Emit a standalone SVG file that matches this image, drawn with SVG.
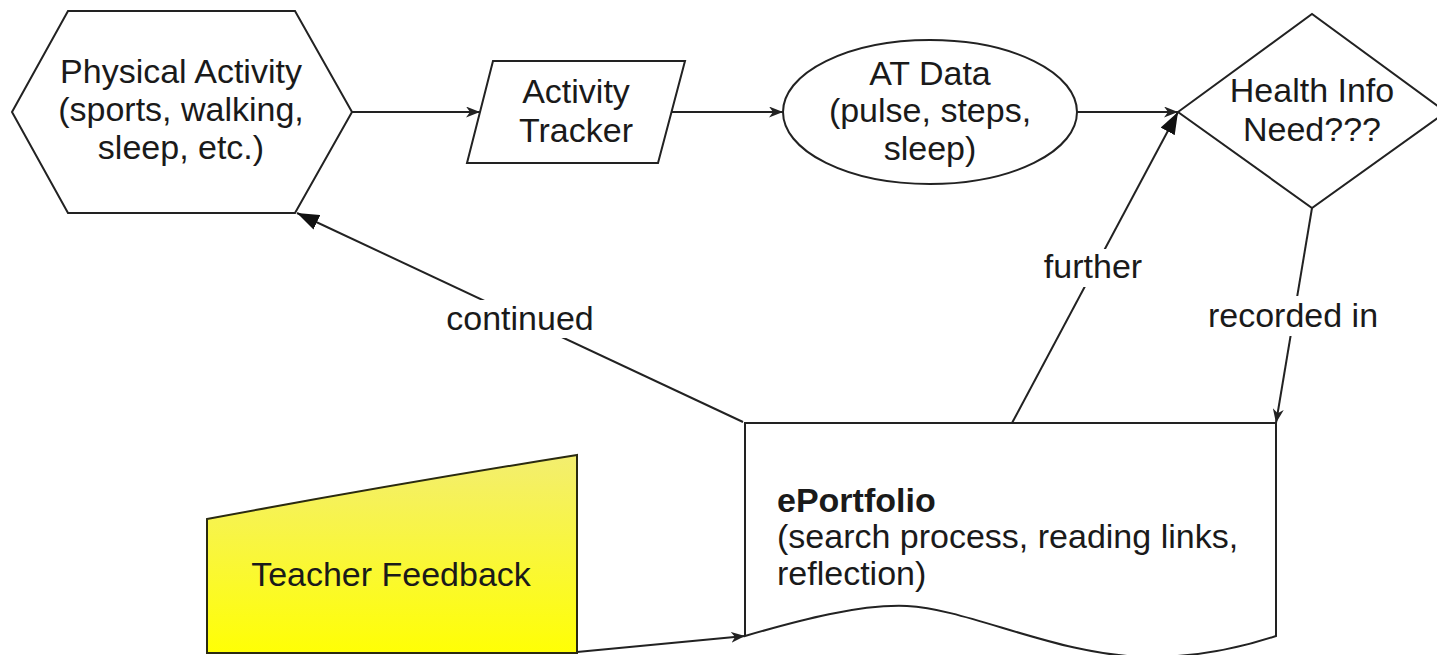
<svg xmlns="http://www.w3.org/2000/svg" width="1437" height="655" viewBox="0 0 1437 655">
<defs>
<style>
.shape{fill:#fff;stroke:#222;stroke-width:2}
.t{font-family:"Liberation Sans",Arial,sans-serif;font-size:34px;fill:#1a1a1a;text-anchor:middle}
.tl{font-family:"Liberation Sans",Arial,sans-serif;font-size:34px;fill:#1a1a1a;text-anchor:start}
.b{font-weight:bold}
.c{fill:none;stroke:#222;stroke-width:2}
.lbl{fill:#fff;stroke:none}
</style>
<linearGradient id="yel" x1="0" y1="0" x2="0" y2="1">
<stop offset="0" stop-color="#f3ee70"/>
<stop offset="1" stop-color="#ffff05"/>
</linearGradient>
<marker id="arrS" viewBox="0 0 14 11" refX="14" refY="5.5" markerWidth="14" markerHeight="11" markerUnits="userSpaceOnUse" orient="auto">
<path d="M0,0 L14,5.5 L0,11 L4,5.5 z" fill="#222"/>
</marker>
<marker id="arrB" viewBox="0 0 22 16" refX="22" refY="8" markerWidth="22" markerHeight="16" markerUnits="userSpaceOnUse" orient="auto">
<path d="M0,0 L22,8 L0,16 z" fill="#111"/>
</marker>
</defs>
<rect width="1437" height="655" fill="#fff"/>

<g id="connectors">
<path class="c" d="M352,112 L480,112" marker-end="url(#arrS)"/>
<path class="c" d="M672,112 L783,112" marker-end="url(#arrS)"/>
<path class="c" d="M1077,112 L1178,112" marker-end="url(#arrS)"/>
<path class="c" d="M743,422 L297,213" marker-end="url(#arrB)"/>
<path class="c" d="M1012,423 L1178,112" marker-end="url(#arrB)"/>
<path class="c" d="M1312,208 L1276,423" marker-end="url(#arrS)"/>
<path class="c" d="M577,652 L745,636" marker-end="url(#arrS)"/>
<rect class="lbl" x="445" y="300" width="150" height="38"/>
<text class="t" x="520" y="330">continued</text>
<rect class="lbl" x="1043" y="249" width="102" height="38"/>
<text class="t" x="1093" y="278">further</text>
<rect class="lbl" x="1206" y="296" width="174" height="40"/>
<text class="t" x="1293" y="327">recorded in</text>
</g>

<g id="physical-activity">
<polygon class="shape" points="12,112 68,11 295,11 352,112 295,213 68,213"/>
<text class="t" x="181" y="83">Physical Activity</text>
<text class="t" x="181" y="121">(sports, walking,</text>
<text class="t" x="181" y="159">sleep, etc.)</text>
</g>

<g id="activity-tracker">
<polygon class="shape" points="493,61 685,61 658,163 467,163"/>
<text class="t" x="576" y="103">Activity</text>
<text class="t" x="576" y="142">Tracker</text>
</g>

<g id="at-data">
<ellipse class="shape" cx="930" cy="112" rx="147" ry="72"/>
<text class="t" x="930" y="85">AT Data</text>
<text class="t" x="930" y="122">(pulse, steps,</text>
<text class="t" x="930" y="160">sleep)</text>
</g>

<g id="health-info">
<polygon class="shape" points="1178,112 1312,14 1446,112 1312,208"/>
<text class="t" x="1312" y="102">Health Info</text>
<text class="t" x="1312" y="141">Need???</text>
</g>

<g id="eportfolio">
<path class="shape" d="M745,423 L1276,423 L1276,636 C1240,648 1200,657 1150,657 C1060,657 970,609 907,606 C860,604 800,620 745,636 Z"/>
<text class="tl b" x="777" y="512">ePortfolio</text>
<text class="tl" x="777" y="548">(search process, reading links,</text>
<text class="tl" x="777" y="585">reflection)</text>
</g>

<g id="teacher-feedback">
<path d="M207,519 Q395,484 577,455 L577,653 L207,653 Z" fill="url(#yel)" stroke="#2a2a10" stroke-width="2"/>
<text class="t" x="391" y="586">Teacher Feedback</text>
</g>
</svg>
